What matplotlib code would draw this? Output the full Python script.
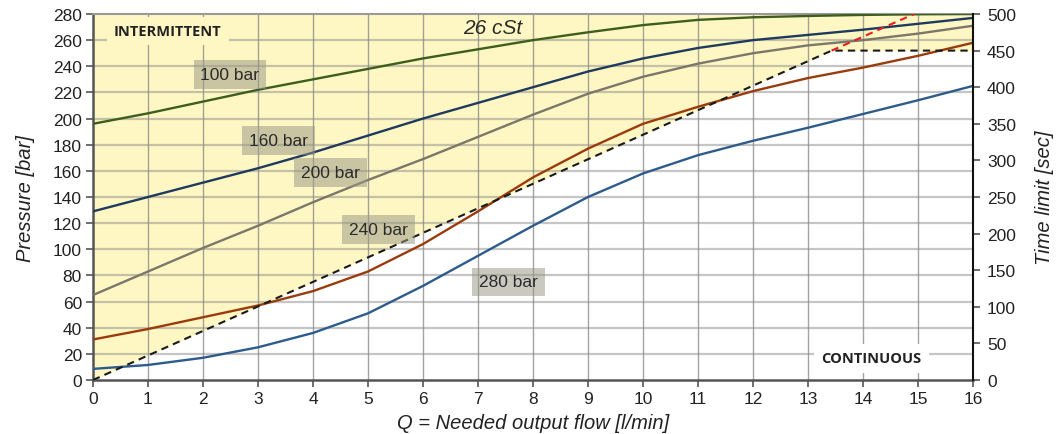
import numpy as np
import matplotlib.pyplot as plt

plt.rcParams['font.family'] = ['Liberation Sans', 'DejaVu Sans']

# flow axis, 0..16 l/min
flow = [0, 1, 2, 3, 4, 5, 6, 7, 8, 9, 10, 11, 12, 13, 14, 15, 16]

# time limit curves, in left-axis units [bar]
p100 = [196, 204, 213, 222, 230, 238, 246, 253, 260, 266, 271.5, 275.5, 277.5, 278.5, 279.3, 279.8, 280]
p160 = [129, 140, 151, 162, 174, 187, 200, 212, 224, 236, 246, 254, 260, 264, 268, 272.5, 277]
p200 = [65, 83, 101, 118, 136, 153, 169, 186, 203, 219, 232, 242, 250, 256, 260, 265, 271]
p240 = [31, 39, 48, 57, 68, 83, 104, 129, 155, 177, 196, 209, 221, 231, 239, 248, 258]
p280 = [8.5, 11.5, 17, 25, 36, 51, 72, 95, 118, 140, 158, 172, 183, 193, 203.5, 214, 225]

curve_names = ['100 bar', '160 bar', '200 bar', '240 bar', '280 bar']
curve_colors = ['#3d5e1e', '#1f3a5f', '#7b776a', '#9b3b0c', '#2d5c8c']

# intermittent / continuous limit, right axis [sec]
limit_q = [0, 13.43, 16]
limit_t = [0, 450, 450]
limit_ext_q = [13.43, 14.93]
limit_ext_t = [450, 500]

# where the curve labels sit (flow, bar)
label_q = [2.49, 3.37, 4.32, 5.19, 7.55]
label_p = [233.4, 183.1, 158.5, 115.1, 75]

P_MAX = 280
T_MAX = 500
to_bar = P_MAX / T_MAX

fig = plt.figure(figsize=(10.61, 4.35), dpi=100)
ax = fig.add_axes([93 / 1061, 54 / 435, 880 / 1061, 366 / 435])

# yellow intermittent zone above the limit line
lim_bar = np.array(limit_t) * to_bar
ax.fill_between(limit_q, lim_bar, P_MAX, color='#fef7c3', lw=0, zorder=0.5)

ax.set_xlim(0, 16)
ax.set_ylim(0, P_MAX)
ax.set_xticks(range(0, 17))
ax.set_yticks(range(0, 281, 20))

for q in range(1, 16):
    ax.axvline(q, color='#7c7c7c', alpha=0.7, lw=1.0, zorder=1.5)
for p in range(20, 280, 20):
    ax.axhline(p, color='#8c8c8c', alpha=0.5, lw=1.6, zorder=1.5)

for vals, col in zip([p100, p160, p200, p240, p280], curve_colors):
    ax.plot(flow, vals, color=col, lw=1.7, zorder=3, solid_capstyle='butt')

ax.plot(limit_q, lim_bar, color='#1a1a1a', lw=1.5, ls=(0, (3.5, 2.5)), zorder=3.5)
ax.plot(limit_ext_q, np.array(limit_ext_t) * to_bar, color='#ee1c1c', lw=1.5,
        ls=(0, (3.5, 2.5)), zorder=3.5)

for name, q, p in zip(curve_names, label_q, label_p):
    ax.text(q, p, name, ha='center', va='center', fontsize=12.5, color='#2a2a2a', zorder=4,
            bbox=dict(boxstyle='square,pad=0.4', fc='#9a9886', ec='none', alpha=0.52))

ax.text(1.36, 267, 'INTERMITTENT', ha='center', va='center', fontsize=10.5,
        fontweight='bold', family=['Open Sans', 'DejaVu Sans'], color='#222222', zorder=4,
        bbox=dict(boxstyle='square,pad=0.5', fc='#fef7c3', ec='none'))
ax.text(14.15, 16.5, 'CONTINUOUS', ha='center', va='center', fontsize=10.5,
        fontweight='bold', family=['Open Sans', 'DejaVu Sans'], color='#222222', zorder=4,
        bbox=dict(boxstyle='square,pad=0.5', fc='white', ec='none'))
ax.text(7.27, 269.5, '26 cSt', ha='center', va='center', fontsize=15,
        style='italic', color='#2a2a2a', zorder=4)

for side in ['left', 'bottom']:
    ax.spines[side].set_color('#555555')
    ax.spines[side].set_linewidth(1.8)
ax.spines['top'].set_color('#999999')
ax.spines['top'].set_linewidth(1.5)
ax.spines['right'].set_visible(False)
ax.tick_params(axis='both', labelsize=12.5, colors='#555555', labelcolor='#222222',
               length=5, width=1.2, direction='out', pad=3)

ax.set_xlabel('Q = Needed output flow [l/min]', fontsize=14.5, style='italic',
              color='#222222', labelpad=5)
ax.set_ylabel('Pressure [bar]', fontsize=14.5, style='italic', color='#222222', labelpad=13)

ax2 = ax.twinx()
ax2.set_ylim(0, T_MAX)
ax2.set_yticks(range(0, 501, 50))
for side in ['left', 'bottom', 'top']:
    ax2.spines[side].set_visible(False)
ax2.spines['right'].set_color('#111111')
ax2.spines['right'].set_linewidth(1.5)
ax2.tick_params(axis='y', labelsize=12.5, colors='#555555', labelcolor='#222222',
                length=5, width=1.2, direction='out', pad=5)
ax2.set_ylabel('Time limit [sec]', fontsize=14.5, style='italic', color='#222222', labelpad=14)

fig.savefig('out.png', dpi=100)
